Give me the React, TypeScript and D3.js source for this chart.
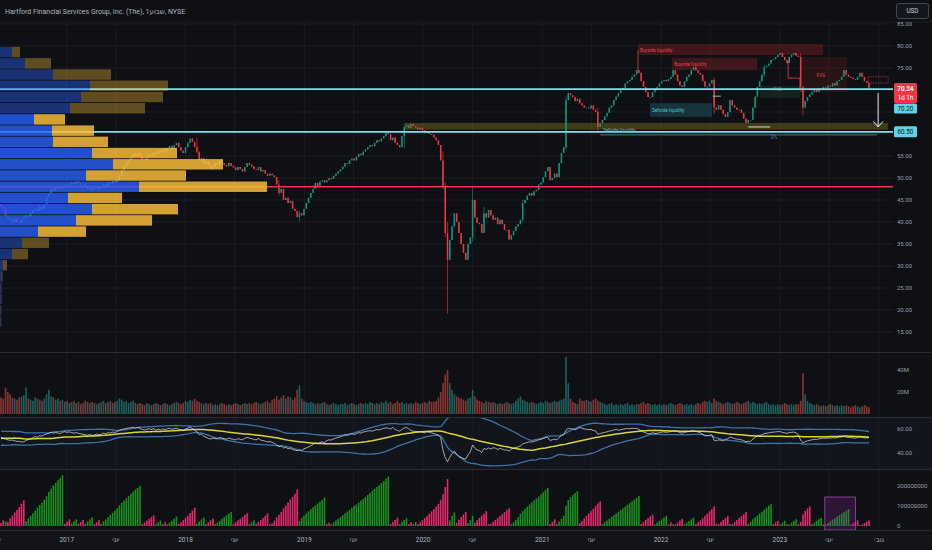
import * as d3 from "d3";

const FONT = "Roboto, 'DejaVu Sans', sans-serif";
const BG = "#0f1014";
const GRID = "#1a1c23";
const SEP = "#2a2d35";
const AXIS_TEXT = "#9a9ea8";
const UP = "#089981";
const DOWN = "#f23645";

const TITLE = "Hartford Financial Services Group, Inc. (The), 1שבוע, NYSE";

// weekly bars, first bar week of 2016-06-13
const START = new Date(2016, 5, 13);
const END = new Date(2023, 9, 2);
const WEEK = 7 * 864e5;
const OPEN_FIRST = 44;

const CLOSES = [
  43.5, 43, 41.5, 41, 40.5, 40, 40.8, 40, 39.8, 40.5,
  41, 41.5, 41.2, 42, 42.7, 43, 42.5, 43.5, 43, 44,
  45.8, 46.6, 47.5, 47, 47.8, 48.2, 47.6, 48, 48.3, 48,
  48.5, 49, 48.7, 49.2, 48.8, 48.4, 48.5, 48, 47.5, 47.8,
  47.2, 47.7, 48, 47.5, 47.7, 48.5, 48.2, 49, 48.7, 49.3,
  49, 49.5, 50.5, 51.8, 52.5, 53.5, 54, 54.6, 55.5, 55,
  55.7, 55, 54.3, 54, 54.8, 55.3, 55, 55.8, 55.5, 56.2,
  55.8, 56.5, 56, 56.8, 57.3, 56.5, 57.5, 58, 57, 56.2,
  55.7, 57, 58, 59, 58.2, 57, 56, 54, 54.5, 53.2,
  53.8, 52.8, 52, 52.5, 53.4, 53, 54, 53.4, 53, 52.6,
  53.4, 52.8, 52.4, 51.8, 52.5, 52, 51.5, 52.5, 53.4, 53,
  52.6, 52, 51.8, 52.5, 51.5, 51.8, 51, 50.5, 51, 50.6,
  50.2, 48.5, 46.6, 47.5, 45, 45.5, 44.3, 44.8, 43, 42.5,
  41.1, 42, 41.5, 43, 44.3, 45.5, 46.6, 47.5, 48.9, 48.2,
  49.2, 49.5, 49, 49.5, 50, 49.8, 50.5, 51, 51.5, 52,
  52.6, 53.4, 53.2, 54, 54.4, 54, 54.8, 55.5, 55.2, 56,
  56.5, 57, 57.5, 57.2, 58, 58.6, 58.3, 59, 59.5, 60.2,
  60, 58.6, 59.2, 58, 57.5, 57, 59.5, 61.6, 62, 61.4,
  62.3, 61.8, 61.5, 61, 61.4, 60.8, 60.2, 60.6, 60, 59.8,
  59.2, 58.6, 57.5, 54, 48, 37.5, 31.4, 35.9, 39, 42,
  40, 37.5, 35, 33, 31.4, 35, 36.5, 45, 41, 39.8,
  39.5, 37.5, 42, 41, 42.7, 41.5, 40.5, 41, 39.5, 40.5,
  39.5, 38.2, 38.2, 36, 37, 38, 39, 39.5, 40.5, 44.3,
  45, 46, 46.6, 46, 47, 47.3, 48.5, 49, 50.2, 51.5,
  52.5, 49.5, 50, 51, 50.2, 53.4, 55.7, 57, 67.7, 69.3,
  68.8, 68.4, 67.5, 68, 67, 66.5, 66, 66, 65.8, 66.5,
  65.5, 65, 61.6, 62.5, 63.2, 64, 64.8, 66, 66.5, 67.7,
  68.5, 69.3, 70, 70.5, 71.5, 72, 72.3, 73, 73.5, 74.5,
  73.9, 72, 70.7, 69.5, 68.4, 68.4, 69.5, 70, 70.7, 71.5,
  72, 72.3, 72, 72.5, 73, 74.5, 73.5, 72, 71, 70.7,
  72, 73, 73.5, 74.5, 75.2, 74.5, 73.9, 73.5, 72, 70.7,
  70.7, 71.5, 72.3, 66, 65.5, 66.5, 65.5, 64.5, 63.9, 65,
  67.7, 66.5, 66, 65.5, 65.5, 64.8, 63.5, 62.5, 63.2, 63.2,
  66, 68.5, 70.7, 72, 73.5, 75.2, 75.5, 76, 76.8, 77,
  77.5, 78, 78.4, 77.5, 76.8, 76.1, 77.5, 78, 78.4, 77.8,
  77.5, 70.7, 66, 67.5, 68.4, 69, 69.5, 70, 69.5, 70.3,
  70, 70.7, 70.5, 71, 70.8, 71.6, 71, 72, 72.3, 73,
  74.5, 73.5, 73, 72.8, 72.5, 72.3, 73, 73.9, 73, 72,
  71.6, 70.24,
];

// bars with visible wicks: index, high, low
const WICK_IDX = [86, 122, 131, 177, 194, 195, 196, 207, 212, 229, 248, 262, 313, 335, 351, 352];
const WICK_HI = [59.2, 49.5, 42.5, 62.3, 56, 49, 40, 48, 43.5, 45, 68.5, 66, 72.8, 75.8, 78.5, 71];
const WICK_LO = [55.5, 46, 40, 56.8, 47.5, 36.5, 19.2, 35.5, 37.5, 40, 56.5, 60.5, 64.5, 73, 69.5, 64.3];

// weekly volume, millions of shares
const VOLUMES = [
  15, 14, 24, 20, 18, 15, 14, 13, 15, 16,
  17, 24, 14, 13, 12, 15, 14, 13, 12, 14,
  18, 22, 16, 15, 13, 14, 12, 13, 11, 12,
  10, 11, 12, 10, 11, 9, 10, 12, 11, 10,
  11, 10, 9, 10, 11, 12, 10, 11, 12, 10,
  11, 12, 14, 13, 11, 12, 10, 11, 12, 10,
  9, 10, 9, 8, 10, 9, 8, 9, 10, 9,
  8, 9, 10, 9, 8, 9, 10, 11, 10, 9,
  10, 12, 11, 13, 12, 14, 12, 11, 10, 9,
  10, 9, 10, 8, 9, 8, 9, 10, 9, 8,
  9, 8, 9, 10, 9, 8, 9, 10, 9, 10,
  9, 10, 11, 10, 9, 10, 11, 12, 10, 13,
  14, 16, 13, 15, 17, 14, 16, 15, 13, 15,
  22, 26, 14, 12, 11, 10, 11, 10, 9, 10,
  9, 10, 11, 9, 8, 9, 10, 9, 8, 9,
  9, 10, 8, 9, 10, 9, 8, 9, 10, 9,
  10, 9, 11, 10, 9, 10, 9, 11, 10, 12,
  10, 11, 9, 10, 12, 10, 11, 9, 10, 9,
  10, 9, 11, 10, 9, 10, 11, 10, 12, 11,
  11, 12, 15, 20, 28, 36, 40, 28, 22, 18,
  16, 15, 14, 13, 12, 14, 15, 22, 16, 13,
  12, 11, 10, 12, 11, 10, 11, 10, 9, 10,
  9, 10, 11, 10, 9, 10, 12, 14, 16, 13,
  12, 11, 10, 11, 10, 9, 10, 11, 10, 12,
  11, 10, 11, 12, 11, 12, 13, 14, 52, 28,
  14, 11, 10, 9, 14, 12, 12, 13, 12, 11,
  13, 14, 12, 11, 10, 9, 8, 9, 10, 8,
  9, 8, 9, 8, 9, 10, 8, 9, 8, 9,
  9, 10, 11, 9, 10, 9, 8, 9, 8, 9,
  8, 9, 8, 9, 10, 9, 8, 9, 10, 9,
  8, 9, 8, 9, 8, 9, 10, 9, 11, 12,
  11, 12, 10, 14, 12, 11, 10, 9, 10, 11,
  10, 9, 10, 11, 10, 9, 10, 11, 12, 10,
  11, 10, 9, 10, 9, 10, 11, 9, 8, 9,
  8, 9, 8, 9, 10, 9, 8, 9, 8, 9,
  9, 12, 37, 18, 12, 10, 9, 8, 9, 8,
  7, 8, 7, 8, 9, 8, 7, 8, 7, 8,
  7, 8, 7, 6, 7, 8, 7, 6, 7, 8,
  7, 6,
];

// oscillator readings for the 40 weeks before the first bar (warm-up of its bands)
const RSI_PRE = [
  56, 55, 53, 50, 48.5, 48, 49.5, 52, 54.5, 56.5,
  57.5, 56, 53.5, 51, 49, 48, 49, 51.5, 54, 56,
  57, 55.5, 53, 50.5, 48.5, 47.5, 48.5, 50.5, 53, 55.5,
  57, 56.5, 54.5, 52.5, 51, 50, 50.5, 51.5, 52.5, 53,
];

const RSI = [
  53, 52.2, 51.5, 51, 50.6, 50.8, 50.2, 49.6, 49.8, 49.2,
  49.4, 50.5, 51.2, 52, 52.8, 53.6, 53.2, 54.5, 54, 55.2,
  55.8, 56.4, 57.2, 56.6, 57, 56.6, 56.2, 57.3, 57.8, 57.2,
  57.6, 57, 56.5, 57, 56.4, 56, 55.7, 55.2, 54.8, 55.3,
  54.6, 55, 55.8, 55.2, 55.6, 56.5, 56, 57, 56.6, 57.4,
  57.2, 57.8, 59, 59.6, 60, 60.5, 60.8, 61, 61.6, 60.8,
  61.4, 60.5, 59.6, 59.2, 59.8, 60.2, 59.6, 60.2, 59, 59.8,
  59.2, 60, 59.5, 60.2, 60.6, 59.7, 60.3, 60.8, 59.8, 59.2,
  59, 60, 60.8, 61.5, 60.5, 59, 57.6, 55.2, 55.8, 54,
  53, 52.2, 51.6, 52.4, 52, 51.8, 53, 52.4, 52, 51.6,
  52.5, 51.8, 51.4, 50.9, 52, 51.4, 51, 52.2, 53, 52.4,
  52, 51.2, 51, 52, 50.8, 50.3, 49.8, 49.2, 49.6, 48.8,
  48.2, 46.7, 45.4, 46, 44.2, 44.8, 43.6, 44, 42.8, 42.4,
  42, 42.6, 42.2, 43.5, 44.2, 45, 46.2, 47, 48.4, 47.8,
  48.8, 49.2, 48.7, 50.3, 51, 50.8, 51.8, 52.4, 53, 53.6,
  54.2, 55, 54.6, 55.5, 56, 55.4, 56.2, 57, 56.6, 57.5,
  57.8, 58.3, 58.6, 58.2, 59, 59.6, 59.2, 60, 60.5, 61,
  60.6, 60, 61.4, 59.6, 58.8, 58.2, 59.8, 61, 61.2, 60.2,
  58.6, 58.2, 58, 57.6, 58, 57.4, 56.8, 57.8, 57.2, 56.8,
  56.2, 55.6, 54.8, 53, 42.5, 36, 32.8, 36.5, 39.7, 41.5,
  39, 37, 36.2, 35.4, 35, 38.5, 41, 46.7, 44, 42.5,
  42, 40.5, 43.8, 43, 44.2, 43.4, 44.4, 44, 43, 43.8,
  43.2, 42.4, 42.6, 41.5, 43.3, 44, 44.6, 45, 45.8, 47.6,
  48.2, 48.8, 49.4, 49, 49.8, 50.2, 51, 51.4, 52.2, 52.8,
  53, 50.5, 51, 51.5, 51, 53, 54.5, 55.2, 59, 60.5,
  60.2, 60, 59.4, 60.2, 61.4, 60.6, 60, 59.8, 59.5, 59.6,
  58.8, 58.4, 55.6, 56.2, 56.8, 57.2, 57.6, 58.3, 58.5, 59.2,
  59.6, 59, 59.4, 59.8, 60.2, 60.5, 60.2, 60.6, 60.4, 60.5,
  59.8, 58.6, 57.5, 56.8, 56, 56.2, 56.8, 56.4, 56.4, 57,
  57.4, 57.6, 57.2, 57.6, 57.8, 58.6, 58, 57.8, 57, 56.6,
  57.2, 57.6, 57.8, 58.4, 58.8, 58, 57.4, 56.8, 55.6, 54.2,
  54.4, 54.8, 55.2, 50.6, 50.2, 51, 50.6, 50, 51.4, 51.8,
  53.4, 52.6, 52, 51.6, 51.4, 51, 50.2, 49.4, 49.8, 49.6,
  51.6, 53, 54.2, 54.8, 55, 56.2, 56.4, 56.8, 57.2, 57.4,
  57.6, 57.8, 57.8, 57.2, 56.8, 56.4, 57, 57.2, 57.4, 56.8,
  55, 50.8, 48.4, 49.4, 50.2, 50.6, 51, 51.4, 51.2, 51.8,
  52, 52.4, 52.2, 52.6, 52.4, 52.8, 52.5, 53, 53.2, 53.4,
  53.8, 53.2, 53, 52.8, 52.6, 52.5, 52.9, 53.3, 53, 52.6,
  52.6, 52.8,
];
const BAND_LENGTH = 40;
const BAND_MULT = 2;

// Weis waves: last bar index of each wave, waves alternate, first one is down
const WAVE_END = [
  1, 2, 10, 27, 30, 33, 36, 40, 43, 61, 67, 70, 72, 77, 85, 89, 93, 101, 108, 111,
  117, 118, 130, 142, 144, 170, 174, 178, 180, 182, 196, 199, 204, 207, 213, 214, 223, 240, 243, 253,
  263, 280, 286, 292, 294, 295, 299, 304, 313, 314, 319, 320, 327, 338, 341, 344, 345, 349, 355, 360,
  361, 372, 376, 377, 381,
];
const WEIS_BOX = { i0: 361.6, i1: 375, v0: -20, v1: 145 };

// visible-range volume profile, rows from the top
const PROFILE_TOP = 79.8;
const PROFILE_STEP = 2.55;
const PROFILE_UP = [12, 25, 53, 90, 81, 70, 34, 52, 53, 92, 113, 86, 139, 68, 92, 76, 38, 22, 12, 3, 1.5, 1, 1, 0.8, 0.8];
const PROFILE_DOWN = [8, 26, 58, 78, 82, 75, 31, 42, 55, 85, 110, 100, 128, 54, 86, 76, 48, 27, 16, 4, 1, 0.5, 0.5, 0.4, 0.4];
const VALUE_AREA = [6, 16];
const POC_PRICE = 48;

const LAST_PRICE = 70.24;
const COUNTDOWN = "1d 1h";
const LEVEL_HIGH = 70.2;
const LEVEL_LOW = 60.5;

const PRICE_TICKS = [15, 20, 25, 30, 35, 40, 45, 50, 55, 60, 65, 70, 75, 80, 85];
const VOL_TICKS = [20, 40];
const RSI_TICKS = [40, 60];
const WEIS_TICKS = [0, 100, 200];
const TIME_TICKS = [
  "2016-06-01", "2017-01-01", "2017-06-01", "2018-01-01", "2018-06-01", "2019-01-01", "2019-06-01",
  "2020-01-01", "2020-06-01", "2021-01-01", "2021-06-01", "2022-01-01", "2022-06-01", "2023-01-01",
  "2023-06-01", "2023-11-01",
];
const TIME_LABELS = [
  "יוני", "2017", "יוני", "2018", "יוני", "2019", "יוני", "2020", "יוני", "2021", "יוני", "2022", "יוני",
  "2023", "יוני", "נוב׳",
];

// smart-money style annotations (bar index, price)
const ZONES = [
  { i0: 279.6, i1: 360.8, p0: 80.45, p1: 77.95, fill: "#7a1e22", op: 0.45, label: "Buyside liquidity", color: "#e0434f" },
  { i0: 294.6, i1: 331.9, p0: 77.3, p1: 74.5, fill: "#7a1e22", op: 0.45, label: "Buyside liquidity", color: "#e0434f" },
  { i0: 350.7, i1: 371.4, p0: 77.5, p1: 69.5, fill: "#5a1a1c", op: 0.35, label: "", color: "" },
  { i0: 284.9, i1: 312.1, p0: 67.0, p1: 63.9, fill: "#1d4d58", op: 0.6, label: "Sellside liquidity", color: "#4fc3c9" },
  { i0: 333, i1: 350.7, p0: 70.9, p1: 68.2, fill: "#1e3a2c", op: 0.45, label: "", color: "" },
];
const OB_BAND = { i0: 177.3, i1: 389.4, p0: 62.5, p1: 61 };

const parseDay = d3.timeParse("%Y-%m-%d");

export default function App() {
  const W = 932;
  const H = 550;
  const AX = 893;
  const x = d3.scaleTime().domain([START, END]).range([1, 869]);
  const xi = (i: number) => x(new Date(+START + i * WEEK));
  const yP = d3.scaleLinear().domain([15, 85]).range([332, 24]);
  const yV = d3.scaleLinear().domain([0, 40]).range([414, 370]);
  const yR = d3.scaleLinear().domain([40, 60]).range([453, 429]);
  const yW = d3.scaleLinear().domain([0, 200]).range([526, 486]);
  const xProf = d3.scaleLinear().domain([0, 300]).range([0, 300]);

  const bars = CLOSES.map((c, i) => {
    const o = i === 0 ? OPEN_FIRST : CLOSES[i - 1];
    const k = WICK_IDX.indexOf(i);
    const hi = k >= 0 ? WICK_HI[k] : Math.max(o, c);
    const lo = k >= 0 ? WICK_LO[k] : Math.min(o, c);
    return { i, o, c, hi, lo, up: c >= o, v: VOLUMES[i] };
  });

  // weis wave cumulative volume
  const weis: { i: number; v: number; up: boolean }[] = [];
  let start = 0;
  WAVE_END.forEach((end, w) => {
    let cum = 0;
    for (let i = start; i <= end; i++) {
      cum += VOLUMES[i];
      weis.push({ i, v: cum, up: w % 2 === 1 });
    }
    start = end + 1;
  });

  // bollinger bands on the oscillator
  const all = RSI_PRE.concat(RSI);
  const bands = RSI.map((r, i) => {
    const win = all.slice(i + RSI_PRE.length - BAND_LENGTH + 1, i + RSI_PRE.length + 1);
    const m = d3.mean(win) as number;
    const sd = d3.deviation(win) as number;
    return { i, r, m, hi: m + BAND_MULT * sd, lo: m - BAND_MULT * sd };
  });
  const lineOf = (key: "r" | "m" | "hi" | "lo") =>
    d3.line<any>().x((d) => xi(d.i)).y((d) => yR(d[key]))(bands) as string;

  const bw = 1.5;
  const txt = { fontFamily: FONT, fill: AXIS_TEXT, fontSize: 6 } as const;

  const yLast = yP(LAST_PRICE);
  const yLow = yP(LEVEL_LOW);
  const yHigh = yP(LEVEL_HIGH);
  // price ticks hidden behind the price labels
  const covered = (y: number) => (y > yLast - 8 && y < yLast + 27) || Math.abs(y - yLow) < 7;

  return (
    <svg width={W} height={H} style={{ position: "fixed", left: 0, top: 0, display: "block" }}>
      <defs>
        <clipPath id="main"><rect x={0} y={22} width={AX} height={330} /></clipPath>
        <clipPath id="rsi"><rect x={0} y={418} width={AX} height={50} /></clipPath>
        <clipPath id="weis"><rect x={0} y={470} width={AX} height={60} /></clipPath>
      </defs>
      <rect width={W} height={H} fill={BG} />
      <rect x={0} y={417} width={W} height={52} fill="#13151c" />
      <rect x={0} y={530} width={W} height={20} fill="#131419" />

      {/* grid */}
      {TIME_TICKS.map((t) => (
        <line key={t} x1={x(parseDay(t)!)} x2={x(parseDay(t)!)} y1={22} y2={530} stroke={GRID} />
      ))}
      {PRICE_TICKS.map((p) => (
        <line key={p} x1={0} x2={AX} y1={yP(p)} y2={yP(p)} stroke={GRID} />
      ))}
      <line x1={0} x2={W} y1={22} y2={22} stroke={GRID} />
      {[352, 417, 469, 530].map((y) => (
        <line key={y} x1={0} x2={W} y1={y + 0.5} y2={y + 0.5} stroke={SEP} />
      ))}

      <text x={5} y={14} fontFamily={FONT} fontSize={7} fill="#b2b5be">{TITLE}</text>

      {/* price panel */}
      <g clipPath="url(#main)">
        <rect x={xi(OB_BAND.i0)} width={xi(OB_BAND.i1) - xi(OB_BAND.i0)} y={yP(OB_BAND.p0)}
          height={yP(OB_BAND.p1) - yP(OB_BAND.p0)} fill="#8a7f24" opacity={0.4} />
        {ZONES.map((z, k) => (
          <g key={k}>
            <rect x={xi(z.i0)} width={xi(z.i1) - xi(z.i0)} y={yP(z.p0)} height={yP(z.p1) - yP(z.p0)}
              fill={z.fill} opacity={z.op} />
            {z.label && (
              <text x={xi(z.i0) + 2} y={(yP(z.p0) + yP(z.p1)) / 2 + 2} fontFamily={FONT} fontSize={4.5}
                fill={z.color}>{z.label}</text>
            )}
          </g>
        ))}
        <text x={xi(358)} y={yP(73)} fontFamily={FONT} fontSize={4.5} fill="#e0434f">FVG</text>
        <text x={xi(339)} y={yP(69.8)} fontFamily={FONT} fontSize={4.5} fill="#4f8f86">FVG</text>

        {bars.map((b) => {
          const cx = xi(b.i);
          const col = b.up ? UP : DOWN;
          const top = yP(Math.max(b.o, b.c));
          const h = Math.max(0.7, yP(Math.min(b.o, b.c)) - top);
          return (
            <g key={b.i}>
              <line x1={cx} x2={cx} y1={yP(b.hi)} y2={yP(b.lo)} stroke={col} strokeWidth={0.6} />
              <rect x={cx - bw / 2} y={top} width={bw} height={h} fill={col} />
            </g>
          );
        })}

        {/* levels */}
        <line x1={0} x2={AX} y1={yP(POC_PRICE)} y2={yP(POC_PRICE)} stroke="#f23645" strokeWidth={1.4} />
        <line x1={0} x2={AX} y1={yHigh} y2={yHigh} stroke="#86dbe6" strokeWidth={1.8} />
        <line x1={0} x2={AX} y1={yLow} y2={yLow} stroke="#86dbe6" strokeWidth={1.8} />
        <line x1={xi(263)} x2={xi(384.5)} y1={yP(59.8)} y2={yP(59.8)} stroke="#55708c" strokeWidth={1} />
        <text x={xi(337.6)} y={yP(59.8) + 4.5} fontFamily={FONT} fontSize={4.5} fill="#4b8bd6">-0%</text>
        <text x={xi(264.3)} y={yLow} fontFamily={FONT} fontSize={4.5} fill="#4fc3c9">Sellside liquidity</text>
        <line x1={xi(328)} x2={xi(337.6)} y1={yP(61.6)} y2={yP(61.6)} stroke="#d8d8d8" strokeWidth={1} />
        <line x1={xi(312.5)} x2={xi(316)} y1={yP(68.6)} y2={yP(68.6)} stroke="#d8d8d8" strokeWidth={0.8} />
        <line x1={xi(279.6)} x2={xi(279.6)} y1={yP(79.1)} y2={yP(73.9)} stroke="#e0434f" strokeWidth={0.8} />
        <polyline points={[[345.5, 76.8], [345.5, 72.7], [350.7, 72.7], [350.7, 70.45]]
          .map(([i, p]) => `${xi(i)},${yP(p)}`).join(" ")} fill="none" stroke="#e0434f" strokeWidth={0.8} />
        <rect x={xi(380.6)} width={xi(389.4) - xi(380.6)} y={yP(73)} height={yP(71.6) - yP(73)}
          fill="none" stroke="#e0434f" strokeWidth={0.6} strokeDasharray="1.5,1" />

        {/* volume profile */}
        {PROFILE_UP.map((u, r) => {
          const pTop = PROFILE_TOP - r * PROFILE_STEP;
          const y0 = yP(pTop);
          const h = yP(pTop - PROFILE_STEP) - y0 - 0.8;
          const va = r >= VALUE_AREA[0] && r <= VALUE_AREA[1];
          return (
            <g key={r}>
              <rect x={0} y={y0} width={xProf(u)} height={h} fill="#2962ff" opacity={va ? 0.78 : 0.42} />
              <rect x={xProf(u)} y={y0} width={xProf(PROFILE_DOWN[r])} height={h} fill="#ffc13b"
                opacity={va ? 0.82 : 0.34} />
            </g>
          );
        })}

        {/* arrow */}
        <line x1={xi(385)} x2={xi(385)} y1={yP(69.3)} y2={yP(61.6)} stroke="#e8e8e8" strokeWidth={1} />
        <polyline points={`${xi(385) - 5},${yP(62.9)} ${xi(385)},${yP(61.6)} ${xi(385) + 5},${yP(62.9)}`}
          fill="none" stroke="#e8e8e8" strokeWidth={1} />
      </g>

      {/* volume */}
      {bars.map((b) => (
        <rect key={b.i} x={xi(b.i) - 0.8} width={1.6} y={yV(b.v)} height={yV(0) - yV(b.v)}
          fill={b.up ? "#26a69a" : "#ef5350"} opacity={0.55} />
      ))}

      {/* oscillator */}
      <g clipPath="url(#rsi)">
        <path d={lineOf("hi")} fill="none" stroke="#3f72a3" strokeWidth={1.3} />
        <path d={lineOf("lo")} fill="none" stroke="#3f72a3" strokeWidth={1.3} />
        <path d={lineOf("m")} fill="none" stroke="#d6d63a" strokeWidth={1.5} />
        <path d={lineOf("r")} fill="none" stroke="#e4e4e4" strokeWidth={0.7} />
      </g>

      {/* weis wave */}
      <g clipPath="url(#weis)">
        {weis.map((d) => (
          <rect key={d.i} x={xi(d.i) - 0.8} width={1.6} y={yW(d.v)} height={yW(0) - yW(d.v)}
            fill={d.up ? "#17901f" : "#e2286d"} />
        ))}
        <rect x={xi(WEIS_BOX.i0)} width={xi(WEIS_BOX.i1) - xi(WEIS_BOX.i0)} y={yW(WEIS_BOX.v1)}
          height={yW(WEIS_BOX.v0) - yW(WEIS_BOX.v1)} fill="#9c27b0" fillOpacity={0.22}
          stroke="#9c4fb0" strokeWidth={0.8} />
      </g>

      {/* right scales */}
      {PRICE_TICKS.filter((p) => !covered(yP(p))).map((p) => (
        <text key={p} x={897} y={yP(p) + 2} {...txt}>{p.toFixed(2)}</text>
      ))}
      {VOL_TICKS.map((v) => (
        <text key={v} x={897} y={yV(v) + 2} {...txt}>{v}M</text>
      ))}
      {RSI_TICKS.map((v) => (
        <text key={v} x={897} y={yR(v) + 2} {...txt}>{v.toFixed(2)}</text>
      ))}
      {WEIS_TICKS.map((v) => (
        <text key={v} x={897} y={yW(v) + 2} {...txt}>{v === 0 ? "0" : String(v * 1e6)}</text>
      ))}

      <rect x={894} y={yLast - 6} width={23} height={20} rx={1.5} fill="#f23645" />
      <text x={905.5} y={yLast + 2} textAnchor="middle" fontFamily={FONT} fontSize={6.3} fontWeight={700}
        fill="#ffffff">{LAST_PRICE.toFixed(2)}</text>
      <text x={905.5} y={yLast + 11} textAnchor="middle" fontFamily={FONT} fontSize={6.3} fill="#ffffff">{COUNTDOWN}</text>
      <rect x={894} y={yLast + 14.5} width={23} height={10} rx={1.5} fill="#5fd3e2" />
      <text x={905.5} y={yLast + 21.8} textAnchor="middle" fontFamily={FONT} fontSize={6.3} fill="#131722">
        {LEVEL_HIGH.toFixed(2)}</text>
      <rect x={894} y={yLow - 5.5} width={23} height={11} rx={1.5} fill="#5fd3e2" />
      <text x={905.5} y={yLow + 2.2} textAnchor="middle" fontFamily={FONT} fontSize={6.3} fill="#131722">
        {LEVEL_LOW.toFixed(2)}</text>

      <rect x={896.5} y={3.5} width={32} height={15} rx={2.5} fill="#14161d" stroke="#434651" />
      <text x={912.5} y={13.3} textAnchor="middle" fontFamily={FONT} fontSize={6.3} fill="#d1d4dc">USD</text>

      {/* time axis */}
      {TIME_TICKS.map((t, k) => (
        <text key={t} x={x(parseDay(t)!)} y={542} textAnchor="middle" fontFamily={FONT} fontSize={6.5}
          fill="#b2b5be">{TIME_LABELS[k]}</text>
      ))}
    </svg>
  );
}
